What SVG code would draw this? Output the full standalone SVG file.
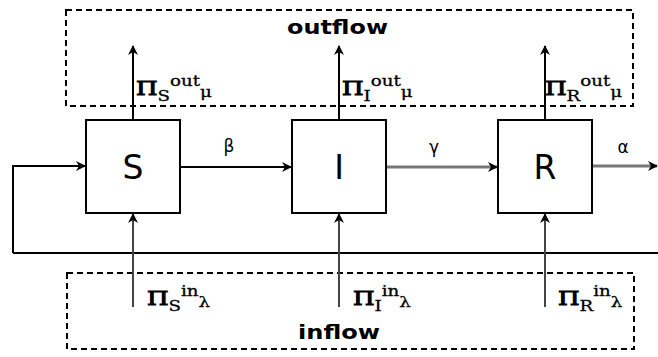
<svg xmlns="http://www.w3.org/2000/svg" width="658" height="357" viewBox="0 0 658 357">
<style>
.box{fill:#fff;stroke:#000;stroke-width:2}
.dash{fill:none;stroke:#000;stroke-width:2;stroke-dasharray:6 4}
.blk{fill:none;stroke:#000;stroke-width:2}
.gry{fill:none;stroke:#777;stroke-width:3}
.gin{fill:none;stroke:#444;stroke-width:2}
.big{font-family:"DejaVu Sans",sans-serif;font-size:33px;text-anchor:middle}
.grk{font-family:"DejaVu Sans",sans-serif;font-size:17px;text-anchor:middle}
.flow{font-family:"DejaVu Sans",sans-serif;font-size:19px;font-weight:bold}
.lab{font-family:"DejaVu Serif",serif;font-size:19px;stroke:#000;stroke-width:1}
.sub{font-size:14px;stroke-width:0.3}
</style>
<defs>
<marker id="ah" viewBox="0 0 10 10" refX="9" refY="5" markerWidth="10" markerHeight="10" markerUnits="userSpaceOnUse" orient="auto">
<path d="M0,0 L10,5 L0,10 L3,5 Z" fill="#000"/>
</marker>
</defs>
<g id="outflow">
<rect class="dash" x="66" y="10" width="567" height="96"/>
<text class="flow" x="287" y="34" textLength="101" lengthAdjust="spacingAndGlyphs">outflow</text>
</g>
<g id="inflow">
<rect class="dash" x="67" y="273" width="567" height="76"/>
<text class="flow" x="298" y="339" textLength="82" lengthAdjust="spacingAndGlyphs">inflow</text>
</g>
<g id="connectors">
<line class="blk" x1="13" y1="253" x2="658" y2="253"/>
<polyline class="blk" points="13,253 13,166 85,166" marker-end="url(#ah)"/>
<line class="blk" x1="180" y1="167" x2="291" y2="167" marker-end="url(#ah)"/>
<line class="gry" x1="386" y1="167" x2="497" y2="167" marker-end="url(#ah)"/>
<line class="gry" x1="592" y1="166" x2="657" y2="166" marker-end="url(#ah)"/>
<line class="blk" x1="133" y1="120" x2="133" y2="46" marker-end="url(#ah)"/>
<line class="blk" x1="339" y1="120" x2="339" y2="46" marker-end="url(#ah)"/>
<line class="blk" x1="545" y1="120" x2="545" y2="46" marker-end="url(#ah)"/>
<line class="gin" x1="133" y1="307" x2="133" y2="214" marker-end="url(#ah)"/>
<line class="gin" x1="339" y1="307" x2="339" y2="214" marker-end="url(#ah)"/>
<line class="gin" x1="545" y1="307" x2="545" y2="214" marker-end="url(#ah)"/>
<text class="grk" x="229" y="152">β</text>
<text class="grk" x="434" y="153">γ</text>
<text class="grk" x="623" y="153">α</text>
<text class="lab" transform="translate(136,95) scale(1.3,1)">Π<tspan class="sub" dy="6">S</tspan><tspan class="sub" dy="-15">out</tspan><tspan class="sub" dy="11">μ</tspan></text>
<text class="lab" transform="translate(342,95) scale(1.3,1)">Π<tspan class="sub" dy="6">I</tspan><tspan class="sub" dy="-15">out</tspan><tspan class="sub" dy="11">μ</tspan></text>
<text class="lab" transform="translate(545,95) scale(1.3,1)">Π<tspan class="sub" dy="6">R</tspan><tspan class="sub" dy="-15">out</tspan><tspan class="sub" dy="11">μ</tspan></text>
<text class="lab" transform="translate(147,305) scale(1.3,1)">Π<tspan class="sub" dy="6">S</tspan><tspan class="sub" dy="-15">in</tspan><tspan class="sub" dy="11">λ</tspan></text>
<text class="lab" transform="translate(353,305) scale(1.3,1)">Π<tspan class="sub" dy="6">I</tspan><tspan class="sub" dy="-15">in</tspan><tspan class="sub" dy="11">λ</tspan></text>
<text class="lab" transform="translate(558,305) scale(1.3,1)">Π<tspan class="sub" dy="6">R</tspan><tspan class="sub" dy="-15">in</tspan><tspan class="sub" dy="11">λ</tspan></text>
</g>
<g id="S">
<rect class="box" x="86" y="120" width="94" height="93"/>
<text class="big" x="133" y="179">S</text>
</g>
<g id="I">
<rect class="box" x="292" y="120" width="94" height="93"/>
<text class="big" x="339" y="179">I</text>
</g>
<g id="R">
<rect class="box" x="498" y="120" width="94" height="93"/>
<text class="big" x="545" y="179">R</text>
</g>
</svg>
